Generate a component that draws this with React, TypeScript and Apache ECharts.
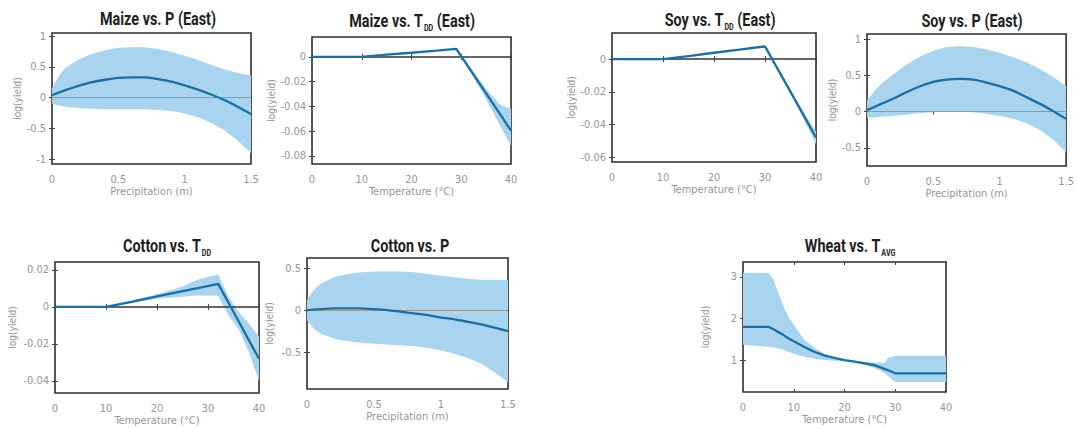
import React, { useEffect, useRef } from "react";
import * as echarts from "echarts";

// ---------- data ----------
const precipX = [0, 0.05, 0.1, 0.2, 0.3, 0.4, 0.5, 0.6, 0.7, 0.8, 0.9, 1.0, 1.1, 1.2, 1.3, 1.4, 1.5];

const maizePMean = [0.04, 0.08, 0.12, 0.19, 0.25, 0.29, 0.32, 0.33, 0.33, 0.3, 0.26, 0.2, 0.13, 0.05, -0.04, -0.15, -0.27];
const maizePUpper = [0.15, 0.35, 0.48, 0.62, 0.71, 0.77, 0.81, 0.82, 0.82, 0.79, 0.74, 0.68, 0.61, 0.53, 0.46, 0.4, 0.36];
const maizePLower = [-0.1, -0.13, -0.15, -0.17, -0.18, -0.19, -0.19, -0.19, -0.19, -0.2, -0.22, -0.26, -0.32, -0.41, -0.53, -0.7, -0.9];

const soyPMean = [0.02, 0.06, 0.1, 0.18, 0.27, 0.35, 0.41, 0.44, 0.45, 0.44, 0.4, 0.35, 0.29, 0.2, 0.11, 0.01, -0.1];
const soyPUpper = [0.15, 0.27, 0.37, 0.52, 0.65, 0.76, 0.84, 0.89, 0.9, 0.89, 0.86, 0.81, 0.75, 0.68, 0.59, 0.48, 0.35];
const soyPLower = [-0.08, -0.08, -0.07, -0.06, -0.04, -0.02, -0.01, 0.0, 0.0, -0.01, -0.03, -0.06, -0.1, -0.16, -0.25, -0.38, -0.56];

const cottonPMean = [0.0, 0.005, 0.01, 0.02, 0.02, 0.02, 0.01, 0.0, -0.02, -0.04, -0.06, -0.09, -0.11, -0.14, -0.17, -0.21, -0.25];
const cottonPUpper = [0.12, 0.24, 0.31, 0.39, 0.43, 0.45, 0.46, 0.46, 0.46, 0.45, 0.43, 0.41, 0.39, 0.37, 0.36, 0.36, 0.36];
const cottonPLower = [-0.12, -0.22, -0.28, -0.34, -0.37, -0.39, -0.4, -0.41, -0.42, -0.43, -0.45, -0.48, -0.52, -0.57, -0.64, -0.74, -0.86];

const maizeTX = [0, 10, 15, 20, 25, 29, 32, 35, 38, 40];
const maizeTMean = [0, 0, 0.0017, 0.0033, 0.005, 0.0065, -0.0115, -0.0295, -0.0475, -0.0595];
const maizeTUpper = [0.0003, 0.0003, 0.002, 0.0037, 0.0055, 0.0071, -0.0095, -0.026, -0.039, -0.042];
const maizeTLower = [-0.0003, -0.0003, 0.0013, 0.003, 0.0045, 0.0059, -0.0135, -0.034, -0.057, -0.072];

const soyTX = [0, 10, 15, 20, 25, 30, 33, 36, 40];
const soyTMean = [0, 0, 0.0019, 0.0039, 0.0058, 0.0078, -0.0089, -0.0256, -0.048];
const soyTUpper = [0.0003, 0.0003, 0.0022, 0.0042, 0.0062, 0.0082, -0.0082, -0.0243, -0.0445];
const soyTLower = [-0.0003, -0.0003, 0.0016, 0.0036, 0.0054, 0.0073, -0.0097, -0.027, -0.052];

const cottonTX = [0, 10, 15, 20, 25, 28, 32, 34, 36, 38, 40];
const cottonTMean = [0, 0, 0.0028, 0.0057, 0.0085, 0.0102, 0.0125, 0.0024, -0.0077, -0.0179, -0.028];
const cottonTUpper = [0.0003, 0.0003, 0.0035, 0.0069, 0.011, 0.0148, 0.0176, 0.0055, -0.0027, -0.009, -0.016];
const cottonTLower = [-0.0003, -0.0003, 0.0022, 0.0045, 0.0055, 0.0062, 0.006, -0.0045, -0.012, -0.0245, -0.04];

const wheatX = [0, 5, 6, 7, 8, 9, 10, 12, 14, 16, 18, 20, 22, 24, 26, 28, 28.5, 30, 40];
const wheatMean = [1.8, 1.8, 1.74, 1.67, 1.6, 1.52, 1.45, 1.32, 1.2, 1.11, 1.05, 1.0, 0.96, 0.92, 0.87, 0.78, 0.76, 0.68, 0.68];
const wheatUpper = [3.1, 3.1, 2.94, 2.6, 2.28, 2.03, 1.85, 1.5, 1.3, 1.15, 1.06, 1.01, 0.97, 0.95, 0.94, 0.93, 1.05, 1.1, 1.1];
const wheatLower = [1.37, 1.32, 1.3, 1.28, 1.25, 1.2, 1.15, 1.08, 1.03, 1.0, 0.98, 0.97, 0.94, 0.88, 0.8, 0.68, 0.62, 0.47, 0.47];

const precipTicks = [0, 0.5, 1, 1.5];
const tempTicks = [0, 10, 20, 30, 40];

// ---------- styling ----------
const BAND = "#a9d4f0";
const LINE = "#1b6fa3";
const BOX = "#2e2e2e";
const GRAY = "#969696";
const FONT = '"Liberation Sans Narrow", "DejaVu Sans Condensed", Roboto, sans-serif';
const TFONT = 'Roboto, "Liberation Sans", sans-serif';

type Panel = {
  title: string;
  tx: number; ty: number;
  grid: { left: number; top: number; width: number; height: number };
  xs: number[]; mean: number[]; upper: number[]; lower: number[];
  xMin: number; xMax: number; xTicks: number[]; xName: string;
  yMin: number; yMax: number; yTicks: number[]; yGap: number;
  zero: "light" | "dark" | "none";
  smooth: boolean;
};

const panels: Panel[] = [
  {
    title: "{t|Maize vs. P (East)}", tx: 158, ty: 19,
    grid: { left: 52, top: 33, width: 199, height: 131 },
    xs: precipX, mean: maizePMean, upper: maizePUpper, lower: maizePLower,
    xMin: 0, xMax: 1.5, xTicks: precipTicks, xName: "Precipitation (m)",
    yMin: -1.08, yMax: 1.05, yTicks: [-1, -0.5, 0, 0.5, 1], yGap: 27, zero: "light", smooth: true,
  },
  {
    title: "{t|Maize vs. T}{s|DD}{t| (East)}", tx: 412, ty: 21,
    grid: { left: 312, top: 37, width: 199, height: 127 },
    xs: maizeTX, mean: maizeTMean, upper: maizeTUpper, lower: maizeTLower,
    xMin: 0, xMax: 40, xTicks: tempTicks, xName: "Temperature (°C)",
    yMin: -0.0865, yMax: 0.016, yTicks: [-0.08, -0.06, -0.04, -0.02, 0], yGap: 34, zero: "dark", smooth: false,
  },
  {
    title: "{t|Soy vs. T}{s|DD}{t| (East)}", tx: 720, ty: 20,
    grid: { left: 612, top: 33, width: 204, height: 129 },
    xs: soyTX, mean: soyTMean, upper: soyTUpper, lower: soyTLower,
    xMin: 0, xMax: 40, xTicks: tempTicks, xName: "Temperature (°C)",
    yMin: -0.063, yMax: 0.016, yTicks: [-0.06, -0.04, -0.02, 0], yGap: 30, zero: "dark", smooth: false,
  },
  {
    title: "{t|Soy vs. P (East)}", tx: 972, ty: 21,
    grid: { left: 867, top: 34, width: 201, height: 132 },
    xs: precipX, mean: soyPMean, upper: soyPUpper, lower: soyPLower,
    xMin: 0, xMax: 1.5, xTicks: precipTicks, xName: "Precipitation (m)",
    yMin: -0.75, yMax: 1.07, yTicks: [-0.5, 0, 0.5, 1], yGap: 29, zero: "light", smooth: true,
  },
  {
    title: "{t|Cotton vs. T}{s|DD}", tx: 167, ty: 246,
    grid: { left: 55, top: 262, width: 204, height: 131 },
    xs: cottonTX, mean: cottonTMean, upper: cottonTUpper, lower: cottonTLower,
    xMin: 0, xMax: 40, xTicks: tempTicks, xName: "Temperature (°C)",
    yMin: -0.0465, yMax: 0.0243, yTicks: [-0.04, -0.02, 0, 0.02], yGap: 38, zero: "dark", smooth: false,
  },
  {
    title: "{t|Cotton vs. P}", tx: 410, ty: 246,
    grid: { left: 307, top: 258, width: 201, height: 131 },
    xs: precipX, mean: cottonPMean, upper: cottonPUpper, lower: cottonPLower,
    xMin: 0, xMax: 1.5, xTicks: precipTicks, xName: "Precipitation (m)",
    yMin: -0.94, yMax: 0.62, yTicks: [-0.5, 0, 0.5], yGap: 33, zero: "light", smooth: true,
  },
  {
    title: "{t|Wheat vs. T}{s|AVG}", tx: 850, ty: 246,
    grid: { left: 743, top: 262, width: 203, height: 130 },
    xs: wheatX, mean: wheatMean, upper: wheatUpper, lower: wheatLower,
    xMin: 0, xMax: 40, xTicks: tempTicks, xName: "Temperature (°C)",
    yMin: 0.23, yMax: 3.36, yTicks: [1, 2, 3], yGap: 33, zero: "none", smooth: false,
  },
];

function buildOption() {
  const grid: any[] = [];
  const xAxis: any[] = [];
  const yAxis: any[] = [];
  const series: any[] = [];
  const graphic: any[] = [];

  panels.forEach((p, i) => {
    grid.push({ ...p.grid, show: true, borderColor: BOX, borderWidth: 1.6, backgroundColor: "transparent" });
    const tick = (vals: number[]) => ({ show: true, inside: true, length: 3, customValues: vals, lineStyle: { color: "#444", width: 1 } });
    xAxis.push({
      type: "value", gridIndex: i, position: "bottom", min: p.xMin, max: p.xMax,
      axisLine: { show: false }, splitLine: { show: false },
      axisTick: tick(p.xTicks),
      axisLabel: { customValues: p.xTicks, color: GRAY, fontFamily: FONT, fontSize: 11, margin: 10 },
      name: p.xName, nameLocation: "middle", nameGap: 21,
      nameTextStyle: { color: GRAY, fontFamily: FONT, fontSize: 11 },
    });
    xAxis.push({
      type: "value", gridIndex: i, position: "top", min: p.xMin, max: p.xMax,
      axisLine: { show: false }, splitLine: { show: false },
      axisTick: tick(p.xTicks), axisLabel: { show: false },
    });
    yAxis.push({
      type: "value", gridIndex: i, position: "left", min: p.yMin, max: p.yMax,
      axisLine: { show: false }, splitLine: { show: false },
      axisTick: tick(p.yTicks),
      axisLabel: { customValues: p.yTicks, color: GRAY, fontFamily: FONT, fontSize: 11, margin: 6 },
      name: "log(yield)", nameLocation: "middle", nameGap: p.yGap,
      nameTextStyle: { color: GRAY, fontFamily: FONT, fontSize: 10 },
    });
    yAxis.push({
      type: "value", gridIndex: i, position: "right", min: p.yMin, max: p.yMax,
      axisLine: { show: false }, splitLine: { show: false },
      axisTick: tick(p.yTicks), axisLabel: { show: false },
    });

    const xs = p.xs, hi = p.upper, lo = p.lower;
    series.push({
      type: "custom",
      xAxisIndex: 2 * i, yAxisIndex: 2 * i,
      data: xs.map((x, k) => [x, lo[k], hi[k]]),
      encode: { x: 0, y: [1, 2] },
      silent: true,
      z: 1,
      renderItem: (params: any, api: any) => {
        if (params.dataIndex !== 0) return;
        const pts: number[][] = [];
        for (let k = 0; k < xs.length; k++) pts.push(api.coord([xs[k], hi[k]]));
        for (let k = xs.length - 1; k >= 0; k--) pts.push(api.coord([xs[k], lo[k]]));
        return { type: "polygon", shape: { points: pts }, style: { fill: BAND } };
      },
    });
    const line: any = {
      type: "line",
      xAxisIndex: 2 * i, yAxisIndex: 2 * i,
      data: xs.map((x, k) => [x, p.mean[k]]),
      showSymbol: false,
      smooth: p.smooth ? 0.3 : false,
      lineStyle: { color: LINE, width: 2.3 },
      silent: true,
      z: 3,
    };
    if (p.zero !== "none") {
      line.markLine = {
        silent: true, symbol: "none", label: { show: false },
        lineStyle: p.zero === "light" ? { color: "#9a9a9a", width: 1, type: "solid" } : { color: "#333", width: 1.5, type: "solid" },
        data: [{ yAxis: 0 }],
        z: 2,
      };
    }
    series.push(line);

    graphic.push({
      type: "text",
      x: p.tx, y: p.ty,
      scaleX: 0.8,
      style: {
        text: p.title,
        textAlign: "center",
        textVerticalAlign: "middle",
        rich: {
          t: { fontFamily: TFONT, fontSize: 18, fontWeight: "bold", fill: "#1e1e1e", lineHeight: 18 },
          s: { fontFamily: TFONT, fontSize: 9, fontWeight: "bold", fill: "#1e1e1e", lineHeight: 18, padding: [14, 0, 0, 1] },
        },
      },
    });
  });

  return { animation: false, backgroundColor: "#fff", grid, xAxis, yAxis, series, graphic };
}

export default function App() {
  const ref = useRef<HTMLDivElement>(null);
  useEffect(() => {
    if (!ref.current) return;
    const chart = echarts.init(ref.current, undefined, { renderer: "svg" });
    chart.setOption(buildOption() as any);
    return () => chart.dispose();
  }, []);
  return (
    <div
      ref={ref}
      style={{ position: "fixed", left: 0, top: 0, width: 1077, height: 428, background: "#fff" }}
    />
  );
}
